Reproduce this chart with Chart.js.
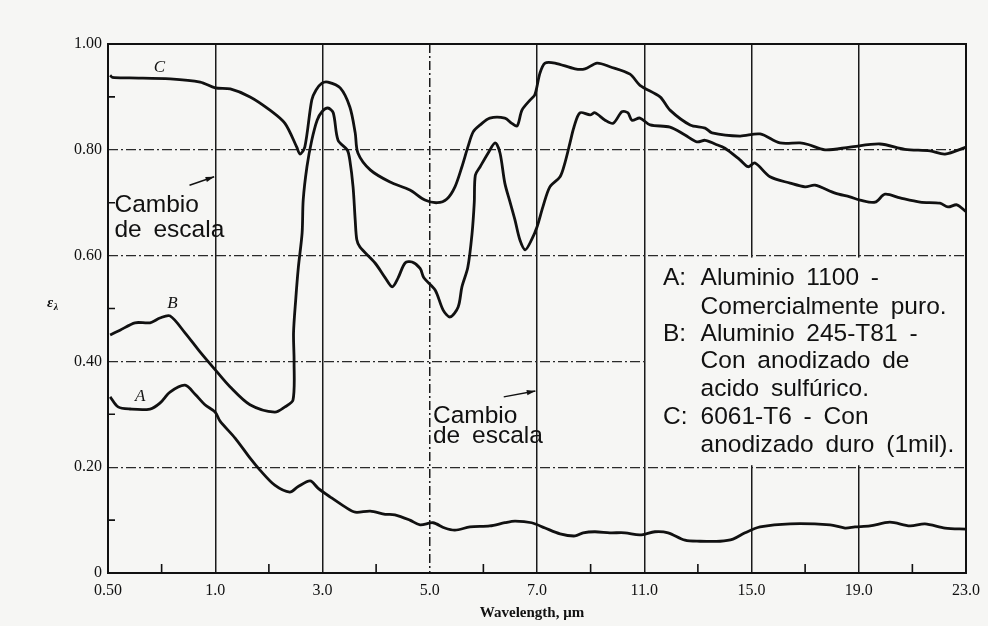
<!DOCTYPE html>
<html>
<head>
<meta charset="utf-8">
<script src="https://cdn.jsdelivr.net/npm/chart.js@4.4.0/dist/chart.umd.min.js"></script>
<style>
  html, body { margin: 0; padding: 0; background: #f6f6f4; }
  #wrap { width: 988px; height: 626px; }
</style>
</head>
<body>
<div id="wrap"><canvas id="emisChart" width="988" height="626"></canvas></div>
<script>
// Broken wavelength axis: scale changes at 1.0 and at 7.0 um
const xTickLabels = ['0.50', '1.0', '3.0', '5.0', '7.0', '11.0', '15.0', '19.0', '23.0'];
const yTickValues = [0, 0.2, 0.4, 0.6, 0.8, 1.0];
const yTickLabels = ['0', '0.20', '0.40', '0.60', '0.80', '1.00'];

// [wavelength um, emissivity]
// A: Aluminio 1100
const curveA = [
  [0.51, 0.333], [0.547, 0.314], [0.603, 0.31], [0.696, 0.31], [0.742, 0.321], [0.789, 0.342],
  [0.859, 0.355], [0.906, 0.338], [0.952, 0.318], [1.0, 0.304], [1.09, 0.287], [1.37, 0.255],
  [1.65, 0.217], [1.83, 0.195], [2.11, 0.166], [2.39, 0.153], [2.54, 0.163], [2.77, 0.174],
  [2.92, 0.16], [3.14, 0.144], [3.42, 0.125], [3.61, 0.115], [3.89, 0.117], [4.17, 0.111],
  [4.35, 0.11], [4.63, 0.10], [4.82, 0.091], [5.06, 0.095], [5.28, 0.085], [5.47, 0.081],
  [5.75, 0.087], [6.12, 0.089], [6.40, 0.095], [6.59, 0.098], [6.90, 0.095], [7.30, 0.085],
  [7.86, 0.074], [8.42, 0.07], [8.72, 0.076], [9.16, 0.078], [9.72, 0.076], [10.28, 0.076],
  [10.84, 0.072], [11.40, 0.078], [11.89, 0.076], [12.52, 0.062], [13.08, 0.06], [13.83, 0.06],
  [14.31, 0.064], [14.76, 0.076], [15.32, 0.087], [16.44, 0.093], [17.93, 0.091], [18.49, 0.085],
  [18.86, 0.087], [19.42, 0.089], [20.16, 0.096], [20.91, 0.089], [21.47, 0.093], [22.22, 0.085],
  [23.0, 0.083]
];

// B: Aluminio 245-T81, anodizado sulfurico
const curveB = [
  [0.51, 0.45], [0.556, 0.459], [0.626, 0.473], [0.696, 0.473], [0.742, 0.482], [0.789, 0.486],
  [0.859, 0.454], [0.929, 0.418], [1.0, 0.384], [1.275, 0.352], [1.648, 0.318], [2.11, 0.304],
  [2.30, 0.314], [2.45, 0.327], [2.47, 0.40], [2.46, 0.454], [2.50, 0.516], [2.55, 0.578],
  [2.62, 0.643], [2.64, 0.705], [2.71, 0.768], [2.80, 0.818], [2.90, 0.856], [2.99, 0.872],
  [3.10, 0.879], [3.20, 0.870], [3.29, 0.818], [3.46, 0.80], [3.51, 0.78], [3.57, 0.73],
  [3.61, 0.667], [3.64, 0.63], [3.70, 0.616], [3.98, 0.586], [4.17, 0.558], [4.30, 0.541],
  [4.41, 0.558], [4.54, 0.586], [4.67, 0.588], [4.82, 0.576], [4.89, 0.558], [5.10, 0.535],
  [5.25, 0.497], [5.38, 0.484], [5.53, 0.503], [5.60, 0.541], [5.71, 0.578], [5.79, 0.643],
  [5.83, 0.70], [5.85, 0.752], [5.94, 0.768], [6.09, 0.794], [6.22, 0.813], [6.31, 0.794],
  [6.40, 0.737], [6.50, 0.70], [6.59, 0.667], [6.68, 0.63], [6.78, 0.611], [6.90, 0.63],
  [7.0, 0.654], [7.22, 0.692], [7.48, 0.73], [7.86, 0.749], [8.04, 0.775], [8.23, 0.813],
  [8.38, 0.843], [8.60, 0.87], [8.98, 0.866], [9.16, 0.87], [9.54, 0.856], [9.84, 0.85],
  [10.17, 0.872], [10.39, 0.87], [10.54, 0.856], [10.84, 0.86], [11.22, 0.847], [11.96, 0.843],
  [12.52, 0.828], [12.97, 0.815], [13.27, 0.818], [13.64, 0.811], [14.01, 0.803], [14.57, 0.781],
  [14.87, 0.768], [15.13, 0.775], [15.69, 0.749], [16.44, 0.737], [17.00, 0.73], [17.37, 0.733],
  [18.12, 0.718], [18.67, 0.711], [19.05, 0.705], [19.61, 0.701], [19.98, 0.716], [20.54, 0.709],
  [21.29, 0.701], [22.03, 0.699], [22.33, 0.692], [22.66, 0.696], [23.0, 0.683]
];

// C: 6061-T6, anodizado duro
const curveC = [
  [0.51, 0.941], [0.52, 0.937], [0.60, 0.936], [0.79, 0.934], [0.93, 0.928], [1.0, 0.917],
  [1.28, 0.915], [1.65, 0.90], [2.02, 0.875], [2.30, 0.85], [2.52, 0.805], [2.58, 0.792],
  [2.67, 0.805], [2.80, 0.894], [2.88, 0.913], [2.99, 0.926], [3.10, 0.928], [3.33, 0.917],
  [3.51, 0.881], [3.61, 0.832], [3.66, 0.794], [3.89, 0.762], [4.26, 0.739], [4.63, 0.724],
  [4.91, 0.705], [5.14, 0.70], [5.32, 0.707], [5.47, 0.73], [5.60, 0.768], [5.71, 0.805],
  [5.81, 0.834], [5.94, 0.847], [6.12, 0.86], [6.40, 0.86], [6.53, 0.85], [6.63, 0.845],
  [6.72, 0.875], [6.87, 0.894], [6.96, 0.904], [7.11, 0.945], [7.30, 0.964], [7.67, 0.964],
  [8.42, 0.953], [8.79, 0.953], [9.24, 0.964], [9.72, 0.957], [10.47, 0.943], [10.84, 0.922],
  [11.59, 0.90], [11.96, 0.875], [12.71, 0.847], [13.27, 0.841], [13.53, 0.832], [14.57, 0.826],
  [15.32, 0.83], [16.06, 0.813], [16.81, 0.813], [17.11, 0.81], [17.74, 0.80], [18.67, 0.805],
  [19.79, 0.811], [20.72, 0.801], [21.66, 0.798], [22.22, 0.792], [23.0, 0.805]
];

const legendLines = [
  ['A:', 'Aluminio 1100 -'],
  ['', 'Comercialmente puro.'],
  ['B:', 'Aluminio 245-T81 -'],
  ['', 'Con anodizado de'],
  ['', 'acido sulfúrico.'],
  ['C:', '6061-T6 - Con'],
  ['', 'anodizado duro (1mil).']
];

// wavelength -> position on the broken axis (one unit per labelled tick)
function toPos(w) {
  if (w <= 1) return (w - 0.5) / 0.5;
  if (w <= 7) return 1 + (w - 1) / 2;
  return 4 + (w - 7) / 4;
}
const toPoints = arr => arr.map(([w, e]) => ({ x: toPos(w), y: e }));

const INK = '#111';
const SERIF = '"Liberation Serif", "DejaVu Serif", serif';
const SANS = '"Liberation Sans", Arial, sans-serif';

function curve(data) {
  return {
    data: toPoints(data),
    borderColor: INK,
    borderWidth: 2.8,
    pointRadius: 0,
    tension: 0.3,
    fill: false
  };
}

// Paper, legend box, frame, minor ticks and text notes
const paperPlugin = {
  id: 'paper',
  beforeDraw(chart) {
    const ctx = chart.ctx;
    ctx.save();
    ctx.fillStyle = '#f6f6f4';
    ctx.fillRect(0, 0, chart.width, chart.height);
    ctx.restore();
  },
  beforeDatasetsDraw(chart) {
    // legend area hides the grid behind it
    const { ctx, chartArea, scales: { x, y } } = chart;
    ctx.save();
    ctx.fillStyle = '#f6f6f4';
    const left = x.getPixelForValue(5) + 2;
    const top = y.getPixelForValue(0.6) + 2;
    const bottom = y.getPixelForValue(0.2) - 2;
    ctx.fillRect(left, top, chartArea.right - left, bottom - top);
    ctx.restore();
  },
  afterDraw(chart) {
    const { ctx, chartArea: a, scales: { x, y } } = chart;
    const px = w => x.getPixelForValue(toPos(w));
    const py = v => y.getPixelForValue(v);
    ctx.save();

    // frame
    ctx.strokeStyle = INK;
    ctx.lineWidth = 2;
    ctx.strokeRect(a.left, a.top, a.right - a.left, a.bottom - a.top);

    // minor ticks
    ctx.lineWidth = 1.6;
    ctx.beginPath();
    for (let i = 0; i < 8; i++) {
      const xx = x.getPixelForValue(i + 0.5);
      ctx.moveTo(xx, a.bottom);
      ctx.lineTo(xx, a.bottom - 9);
    }
    [0.1, 0.3, 0.5, 0.7, 0.9].forEach(v => {
      ctx.moveTo(a.left, py(v));
      ctx.lineTo(a.left + 7, py(v));
    });
    ctx.stroke();

    // curve tags
    ctx.fillStyle = INK;
    ctx.font = 'italic 17px ' + SERIF;
    ctx.textAlign = 'center';
    ctx.textBaseline = 'middle';
    ctx.fillText('C', px(0.74), py(0.955));
    ctx.fillText('B', px(0.80), py(0.51));
    ctx.fillText('A', px(0.65), py(0.333));

    // axis titles
    ctx.font = 'bold 15px ' + SERIF;
    ctx.fillText('Wavelength, \u03bcm', (a.left + a.right) / 2 - 5, a.bottom + 40);
    ctx.font = 'bold italic 15px ' + SERIF;
    ctx.fillText('\u03b5', a.left - 58, py(0.51));
    ctx.font = 'bold italic 10px ' + SERIF;
    ctx.fillText('\u03bb', a.left - 52, py(0.51) + 4);

    // sans notes
    ctx.font = '24.5px ' + SANS;
    ctx.textAlign = 'left';
    ctx.textBaseline = 'alphabetic';
    if ('wordSpacing' in ctx) ctx.wordSpacing = '5px';
    ctx.fillText('Cambio', px(0.53), py(0.682));
    ctx.fillText('de escala', px(0.53), py(0.635));
    ctx.fillText('Cambio', px(5.06), py(0.284));
    ctx.fillText('de escala', px(5.06), py(0.246));

    const legendV = [0.544, 0.490, 0.439, 0.388, 0.335, 0.282, 0.229];
    legendLines.forEach(([tag, text], i) => {
      if (tag) ctx.fillText(tag, px(11.7), py(legendV[i]));
      ctx.fillText(text, px(13.1), py(legendV[i]));
    });
    if ('wordSpacing' in ctx) ctx.wordSpacing = '0px';

    // arrows pointing at the scale changes
    function arrow(x0, y0, x1, y1) {
      const ang = Math.atan2(y1 - y0, x1 - x0);
      ctx.lineWidth = 1.4;
      ctx.beginPath();
      ctx.moveTo(x0, y0);
      ctx.lineTo(x1, y1);
      ctx.stroke();
      ctx.beginPath();
      ctx.moveTo(x1, y1);
      ctx.lineTo(x1 - 9 * Math.cos(ang - 0.3), y1 - 9 * Math.sin(ang - 0.3));
      ctx.lineTo(x1 - 9 * Math.cos(ang + 0.3), y1 - 9 * Math.sin(ang + 0.3));
      ctx.closePath();
      ctx.fill();
    }
    arrow(px(0.88), py(0.733), px(0.995), py(0.749));
    arrow(px(6.38), py(0.333), px(6.97), py(0.344));

    ctx.restore();
  }
};

new Chart(document.getElementById('emisChart'), {
  type: 'line',
  data: {
    datasets: [curve(curveA), curve(curveB), curve(curveC)]
  },
  options: {
    responsive: false,
    animation: false,
    layout: { padding: { top: 44, right: 22, left: 0, bottom: 0 } },
    plugins: {
      legend: { display: false },
      tooltip: { enabled: false }
    },
    scales: {
      x: {
        type: 'linear',
        min: 0,
        max: 8,
        afterBuildTicks: s => { s.ticks = xTickLabels.map((_, i) => ({ value: i })); },
        afterFit: s => { s.height = 53; },
        ticks: {
          autoSkip: false,
          maxRotation: 0,
          padding: 8,
          color: '#111',
          font: { family: SERIF, size: 16 },
          callback: v => xTickLabels[Math.round(v)]
        },
        grid: { color: '#1a1a1a', lineWidth: 1.5, drawTicks: false },
        border: { display: false, dash: c => (c.tick && c.tick.value === 3) ? [9, 3, 2, 3] : [] }
      },
      y: {
        min: 0,
        max: 1,
        afterBuildTicks: s => { s.ticks = yTickValues.map(v => ({ value: v })); },
        afterFit: s => { s.width = 108; },
        ticks: {
          padding: 6,
          color: '#111',
          font: { family: SERIF, size: 16 },
          callback: (v, i) => yTickLabels[i]
        },
        grid: { color: '#2a2a2a', lineWidth: 1.3, drawTicks: false },
        border: { display: false, dash: [10, 3, 2, 3] }
      }
    }
  },
  plugins: [paperPlugin]
});
</script>
</body>
</html>
